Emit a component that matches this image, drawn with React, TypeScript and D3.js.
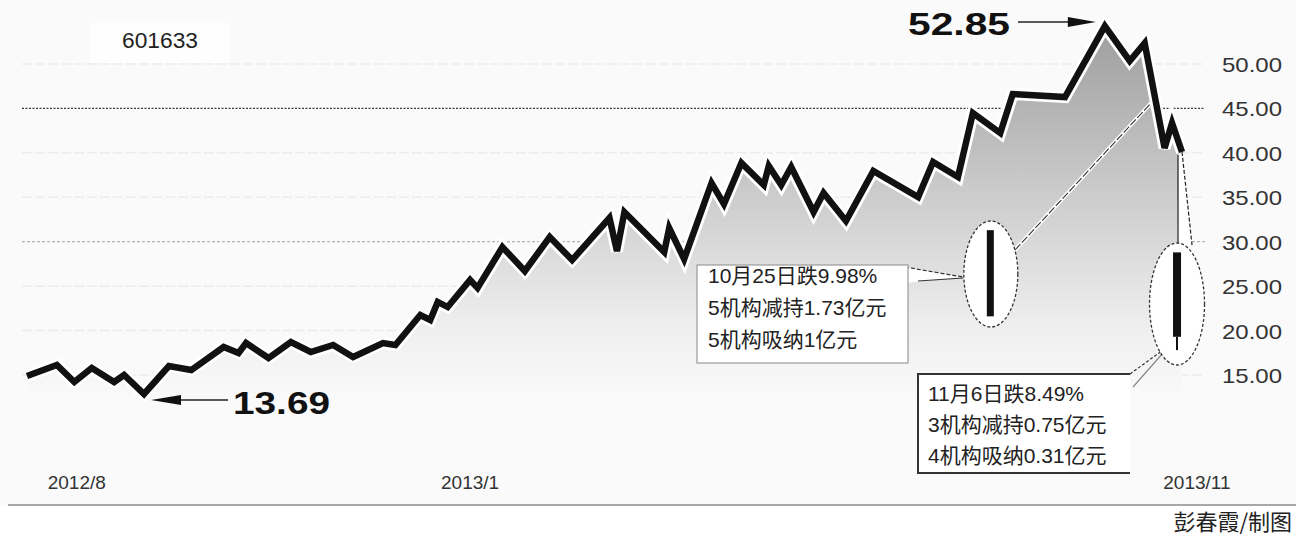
import React from "react";
import * as d3 from "d3";

// ---- data ----
const days: number[] = [0,12,19,26,35,39,47,57,66,79,85,88,97,106,114,123,131,143,148,158,162,165,169,178,181,191,200,210,219,234,237,240,256,258,264,275,280,287,296,298,303,307,316,320,329,340,358,364,374,380,391,396,417,433,443,449,457,460,464];
const prices: number[] = [14.89,16.13,14.21,15.79,14.21,15.00,12.86,16.01,15.56,18.15,17.48,18.60,16.91,18.71,17.59,18.38,17.03,18.60,18.38,21.75,21.19,23.22,22.65,25.69,24.79,29.40,26.70,30.53,27.94,32.67,28.95,33.34,28.84,31.54,28.05,36.61,34.24,38.86,36.38,38.52,36.38,38.41,33.34,35.48,32.33,37.96,35.03,38.97,37.28,44.48,42.23,46.62,46.28,54.27,50.34,52.36,40.55,43.36,40.10];
const yTicks: number[] = [15, 20, 25, 30, 35, 40, 45, 50];
const xTickDays: number[] = [20, 178, 470];
const xTickLabels: string[] = ["2012/8", "2013/1", "2013/11"];
const stockCode = "601633";
const highLabel = "52.85";
const lowLabel = "13.69";
// candles: [day, open, close, low]
const candleDays: number[] = [387, 462];
const candleOpen: number[] = [31.3, 28.8];
const candleClose: number[] = [21.6, 19.3];
const candleLow: number[] = [21.6, 17.8];
const note1: string[] = ["10月25日跌9.98%", "5机构减持1.73亿元", "5机构吸纳1亿元"];
const note2: string[] = ["11月6日跌8.49%", "3机构减持0.75亿元", "4机构吸纳0.31亿元"];
const credit = "彭春霞/制图";

const W = 1296, H = 538;
const DIG = "'Liberation Sans', Arial, sans-serif";
const MIX = "'Liberation Sans', 'Noto Sans CJK SC', sans-serif";
const CJK = "'Noto Sans CJK SC', 'Liberation Sans', sans-serif";

export default function App() {
  const x = d3.scaleLinear().domain([0, 464]).range([27, 1182]);
  const y = d3.scaleLinear().domain([15, 50]).range([375, 64]);
  const pts = days.map((d, i) => [d, prices[i]] as [number, number]);
  const line = d3.line<[number, number]>().x(p => x(p[0])).y(p => y(p[1]));
  const area = d3.area<[number, number]>().x(p => x(p[0])).y0(y(11.5)).y1(p => y(p[1]) + 3);

  const iMax = d3.maxIndex(prices);
  const iMin = d3.minIndex(prices);
  const hx = x(days[iMax]), hy = y(prices[iMax]);
  const lx = x(days[iMin]), ly = y(prices[iMin]);

  const gridStyle = (t: number) => {
    if (t === 45) return { stroke: "#3a3a3a", dash: "2 1.5", w: 1.2 };
    if (t === 30) return { stroke: "#b4b4b4", dash: "3 2", w: 1.2 };
    return { stroke: "#ececec", dash: "10 3", w: 1.5 };
  };

  const c1x = x(candleDays[0]);
  const c2x = x(candleDays[1]);
  const lastX = x(days[days.length - 1]);
  const lastY = y(prices[prices.length - 1]);

  return (
    <svg width={W} height={H} style={{ position: "absolute", left: 0, top: 0, display: "block" }}>
      <defs>
        <linearGradient id="fillG" gradientUnits="userSpaceOnUse" x1="0" y1="20" x2="0" y2="400">
          <stop offset="0" stopColor="#9c9c9c" />
          <stop offset="0.45" stopColor="#cbcbcb" />
          <stop offset="0.8" stopColor="#eeeeee" />
          <stop offset="1" stopColor="#fafafa" />
        </linearGradient>
      </defs>
      <rect x={0} y={0} width={W} height={H} fill="#fafafa" />
      <rect x={0} y={506} width={W} height={H - 506} fill="#ffffff" />

      {/* code box */}
      <rect x={90} y={23} width={140} height={40} fill="#fefefe" />
      <text x={122} y={48} fontFamily={DIG} fontSize={22} fill="#222" textLength={76} lengthAdjust="spacingAndGlyphs">{stockCode}</text>

      {/* grid */}
      {yTicks.map(t => {
        const s = gridStyle(t);
        return <line key={t} x1={22} x2={1205} y1={y(t)} y2={y(t)} stroke={s.stroke} strokeWidth={s.w} strokeDasharray={s.dash} />;
      })}

      {/* area */}
      <path d={area(pts) || ""} fill="url(#fillG)" />

      {/* leader from candle 1 to line */}
      <line x1={1015} y1={250} x2={1152} y2={102} stroke="#ffffff" strokeWidth={4} />
      <line x1={1015} y1={250} x2={1152} y2={102} stroke="#333" strokeWidth={1.1} strokeDasharray="8 2" />
      {/* leader from candle 2 to last point */}
      <polygon points={`${lastX - 4},${lastY + 3} ${lastX},${lastY} ${c2x + 15},245 ${c2x + 1},245`} fill="#ffffff" />
      <line x1={lastX - 4} y1={lastY + 3} x2={c2x + 1} y2={245} stroke="#222" strokeWidth={1.2} />
      <line x1={lastX} y1={lastY} x2={c2x + 15} y2={245} stroke="#222" strokeWidth={1.2} strokeDasharray="4 2" />

      {/* price line */}
      <path d={line(pts) || ""} fill="none" stroke="#ffffff" strokeWidth={12} strokeLinejoin="miter" strokeMiterlimit={4} />
      <path d={line(pts) || ""} fill="none" stroke="#111" strokeWidth={6.5} strokeLinejoin="miter" strokeMiterlimit={4} />

      {/* high / low annotations */}
      <text x={908} y={35} fontFamily={DIG} fontWeight="bold" fontSize={32} fill="#111" textLength={102} lengthAdjust="spacingAndGlyphs">{highLabel}</text>
      <line x1={1018} y1={hy - 4} x2={hx - 32} y2={hy - 4} stroke="#222" strokeWidth={1.5} />
      <polygon points={`${hx - 9},${hy - 4} ${hx - 37},${hy - 9} ${hx - 37},${hy + 1}`} fill="#111" />

      <text x={233} y={414} fontFamily={DIG} fontWeight="bold" fontSize={31} fill="#111" textLength={97} lengthAdjust="spacingAndGlyphs">{lowLabel}</text>
      <line x1={lx + 35} y1={ly + 6} x2={228} y2={ly + 6} stroke="#222" strokeWidth={1.5} />
      <polygon points={`${lx + 7},${ly + 6} ${lx + 37},${ly + 1} ${lx + 37},${ly + 11}`} fill="#111" />

      {/* note box 1 */}
      <polygon points="905,267 963,277 905,283" fill="#ffffff" />
      <line x1={905} y1={267} x2={963} y2={277} stroke="#333" strokeWidth={1.2} strokeDasharray="4 2" />
      <line x1={918} y1={281} x2={963} y2={278} stroke="#333" strokeWidth={1.2} />
      <rect x={697} y={265} width={211} height={98} fill="#ffffff" stroke="#9a9a9a" strokeWidth={1.2} />
      {note1.map((t, i) => (
        <text key={i} x={708} y={283 + i * 32} fontFamily={MIX} fontSize={21} fill="#222">{t}</text>
      ))}

      {/* ellipse + candle 1 */}
      <ellipse cx={c1x + 0.5} cy={274} rx={27} ry={53} fill="#ffffff" stroke="#333" strokeWidth={1.3} strokeDasharray="3 2" />
      <rect x={c1x - 3.5} y={y(candleOpen[0])} width={7} height={y(candleClose[0]) - y(candleOpen[0])} fill="#111" />

      {/* note box 2 */}
      <line x1={1130} y1={374} x2={1170} y2={345} stroke="#333" strokeWidth={1.2} strokeDasharray="3 2" />
      <line x1={1133} y1={387} x2={1163} y2={353} stroke="#888" strokeWidth={1.2} />
      <rect x={918} y={374} width={212} height={99} fill="#ffffff" />
      <polyline points="1130,374 918,374 918,473 1130,473" fill="none" stroke="#333" strokeWidth={2} />
      {note2.map((t, i) => (
        <text key={i} x={928} y={401 + i * 31} fontFamily={MIX} fontSize={21} fill="#222">{t}</text>
      ))}

      {/* ellipse + candle 2 */}
      <ellipse cx={c2x} cy={304} rx={27.5} ry={61} fill="#ffffff" stroke="#333" strokeWidth={1.3} strokeDasharray="3 2" />
      <line x1={c2x} x2={c2x} y1={y(candleClose[1])} y2={y(candleLow[1])} stroke="#111" strokeWidth={2} />
      <rect x={c2x - 4} y={y(candleOpen[1])} width={8} height={y(candleClose[1]) - y(candleOpen[1])} fill="#111" />

      {/* y axis labels */}
      {yTicks.map(t => (
        <text key={t} x={1222} y={y(t) + 8} fontFamily={DIG} fontSize={21} fill="#333" textLength={60} lengthAdjust="spacingAndGlyphs">{t.toFixed(2)}</text>
      ))}

      {/* x axis labels */}
      {xTickDays.map((d, i) => (
        <text key={i} x={x(d)} y={489} textAnchor="middle" fontFamily={DIG} fontSize={19} fill="#333">{xTickLabels[i]}</text>
      ))}

      <line x1={8} x2={W} y1={505} y2={505} stroke="#a8a8a8" strokeWidth={2} />
      <text x={1292} y={530} textAnchor="end" fontFamily={CJK} fontSize={22} fill="#222">{credit}</text>
    </svg>
  );
}
